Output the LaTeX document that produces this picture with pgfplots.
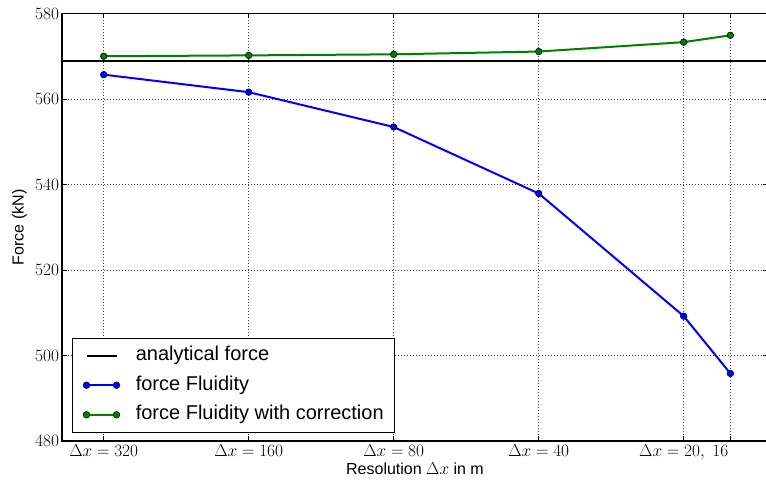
\documentclass[border=0pt]{standalone}
\usepackage{fontspec}
\setmainfont{Liberation Sans}
\usepackage{pgfplots}
\pgfplotsset{compat=1.18}
\definecolor{mplgreen}{rgb}{0,0.5,0}
\definecolor{mplblue}{rgb}{0,0,1}
\begin{document}
\begin{tikzpicture}
\useasboundingbox (-62pt,-47pt) rectangle (704pt,441pt);
\begin{axis}[
  scale only axis, width=706pt, height=427.5pt,
  at={(0pt,0pt)}, anchor=south west,
  xmin=-0.2876, xmax=4.5814,
  ymin=480, ymax=580,
  xtick={0,1,2,3,4,4.3219},
  xticklabels={$\Delta x = 320$, $\Delta x = 160$, $\Delta x = 80$, $\Delta x = 40$, {$\Delta x = 20,\ 16$}, {}},
  ytick={480,500,520,540,560,580},
  grid=major,
  grid style={black!75, line width=0.8pt, dash pattern=on 0.8pt off 2.2pt},
  axis line style={line width=1.1pt},
  tick align=inside,
  major tick length=5pt,
  tick style={black, line width=0.8pt},
  tick label style={font=\fontsize{17}{20}\selectfont},
  xticklabel style={yshift=-0.5pt},
  yticklabel style={xshift=0.5pt},
  xlabel={Resolution $\Delta x$ in m},
  ylabel={Force (kN)},
  every axis x label/.style={at={(axis description cs:0.5,0)}, anchor=center, yshift=-28pt, font=\fontsize{16}{19}\selectfont},
  every axis y label/.style={at={(axis description cs:0,0.5)}, xshift=-42.5pt, rotate=90, anchor=center, font=\fontsize{16}{19}\selectfont},
  legend cell align=left,
  legend style={at={(axis description cs:0,0)}, anchor=south west, xshift=10pt, yshift=8pt,
    font=\fontsize{20}{24}\selectfont, draw=black, line width=1pt,
    nodes={inner ysep=4.75pt, text height=15pt, text depth=5pt},
    row sep=0pt, column sep=14pt, inner xsep=9pt, inner ysep=3pt},
  legend image code/.code={\path (0pt,0pt); \draw[#1] plot coordinates {(4pt,0pt) (34pt,0pt)};},
]
\addplot[black, line width=2pt] coordinates {(-1,568.8) (6,568.8)};
\addlegendentry{analytical force}
\addplot[mplblue, line width=2pt, mark=*, mark size=3.3pt, mark options={fill=mplblue, draw=black, line width=0.6pt}]
  coordinates {(0,565.7) (1,561.6) (2,553.45) (3,537.9) (4,509.2) (4.3219,495.8)};
\addlegendentry{force Fluidity}
\addplot[mplgreen, line width=2pt, mark=*, mark size=3.3pt, mark options={fill=mplgreen, draw=black, line width=0.6pt}]
  coordinates {(0,570.0) (1,570.2) (2,570.45) (3,571.1) (4,573.3) (4.3219,574.9)};
\addlegendentry{force Fluidity with correction}
\end{axis}
\end{tikzpicture}
\end{document}
